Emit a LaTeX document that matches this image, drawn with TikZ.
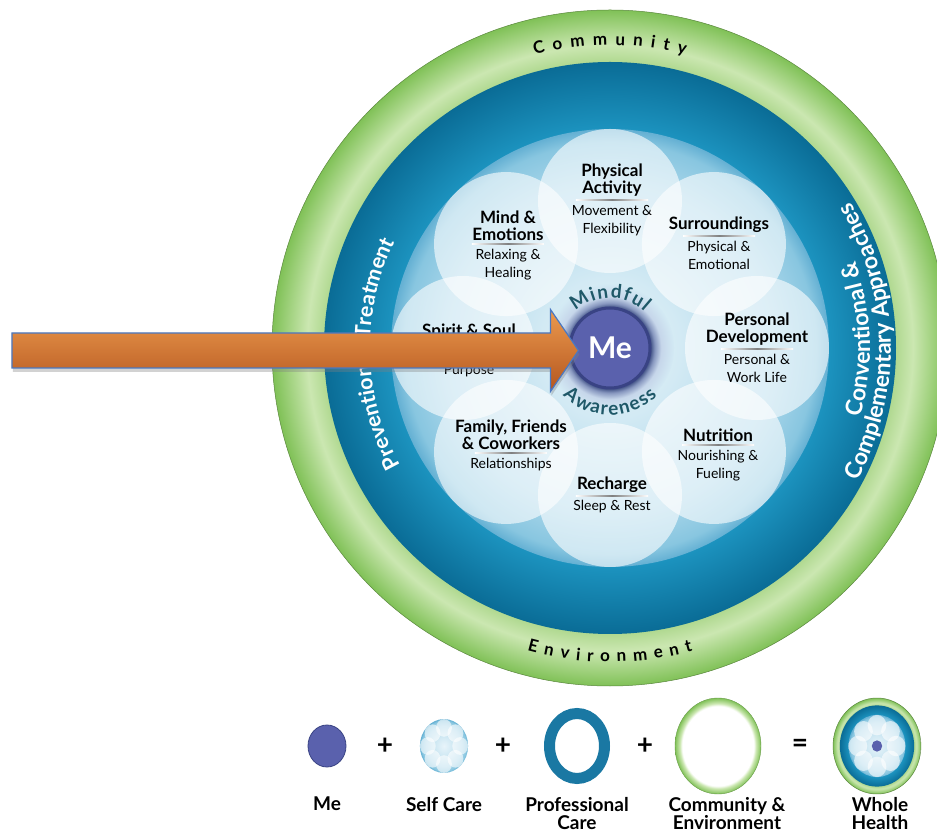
\documentclass[tikz,border=0pt]{standalone}
\usepackage{fontspec}
\setmainfont{Lato}
\usetikzlibrary{calc,positioning,shadows,shapes.geometric}

\definecolor{grA}{HTML}{AFD88F}
\definecolor{grB}{HTML}{CBE7B1}
\definecolor{grC}{HTML}{80C157}
\definecolor{blA}{HTML}{1C93BF}
\definecolor{blB}{HTML}{0A6C96}
\definecolor{lbA}{HTML}{E8F4FA}
\definecolor{lbB}{HTML}{D3EAF4}
\definecolor{lbC}{HTML}{A9D6EA}
\definecolor{lbD}{HTML}{88C6E0}
\definecolor{lbE}{HTML}{64B0D3}
\definecolor{haloA}{HTML}{46578A}
\definecolor{haloB}{HTML}{8797BF}
\definecolor{haloC}{HTML}{C6D6EA}
\definecolor{mefill}{HTML}{5A61AD}
\definecolor{meline}{HTML}{394384}
\definecolor{mindteal}{HTML}{1F5868}
\definecolor{arrowA}{HTML}{EC9A4E}
\definecolor{arrowB}{HTML}{B4561F}
\definecolor{arrowline}{HTML}{4A78C2}
\definecolor{profblue}{HTML}{1A78A3}

% ring gradients (25bp = outer edge of the filled circle)
\pgfdeclareradialshading{greenring}{\pgfpoint{0bp}{0bp}}{color(0bp)=(grA); color(21.1bp)=(grA); color(22.4bp)=(grB); color(25bp)=(grC); color(50bp)=(grC)}
\pgfdeclareradialshading{bluering}{\pgfpoint{0bp}{0bp}}{color(0bp)=(blA); color(19.1bp)=(blA); color(25bp)=(blB); color(50bp)=(blB)}
\pgfdeclareradialshading{wheelbg}{\pgfpoint{0bp}{0bp}}{color(0bp)=(lbA); color(8bp)=(lbB); color(19bp)=(lbC); color(23.5bp)=(lbD); color(25bp)=(lbE); color(50bp)=(lbE)}
\pgfdeclareradialshading{mehalo}{\pgfpoint{0bp}{0bp}}{color(0bp)=(haloA); color(16bp)=(haloA); color(17.5bp)=(haloB); color(20bp)=(haloC); color(25bp)=(lbB); color(50bp)=(lbB)}
\pgfdeclareradialshading{commring}{\pgfpoint{0bp}{0bp}}{color(0bp)=(white); color(20.8bp)=(white); color(22.2bp)=(grB); color(25bp)=(grC); color(50bp)=(grC)}

\newcommand\mindfont{\bfseries\fontsize{19}{19}\selectfont}
\newcommand\ringfont{\bfseries\fontsize{17}{17}\selectfont}
\newcommand\leftfont{\bfseries\fontsize{21.5}{21.5}\selectfont}
\newcommand\rightfont{\bfseries\fontsize{23}{23}\selectfont}

% outer rings of the wheel
\newcommand\wheelrings{%
  \shade[shading=greenring, draw=grC!70!black, line width=0.5pt] (0,0) circle (338);
  \shade[shading=bluering] (0,0) circle (286);}
% light blue disc with the eight petals
\newcommand\careflower{%
  \shade[shading=wheelbg] (0,0) circle (219);
  \foreach \a in {0,45,...,315}
    \fill[petal] (\a:147) circle (72);}
% letters set on a circle round the origin
% #1 radius of the baseline, #2 centre angle, #3 1 = clockwise / -1 = counterclockwise,
% #4 font, #5 colour, #6 extra letter spacing, #7 the letters
\newcommand\arcletters[7]{%
  \gdef\arcsum{0}%
  \foreach \ch in {#7}{%
    \setbox0\hbox{\pgfinterruptpicture#4\ch\endpgfinterruptpicture}%
    \pgfmathsetmacro\arcnew{\arcsum+\the\wd0+#6}\global\let\arcsum\arcnew}%
  \pgfmathsetmacro\arctotal{\arcsum-#6}%
  \global\let\arctot\arctotal
  \gdef\arcsum{0}%
  \foreach \ch in {#7}{%
    \setbox0\hbox{\pgfinterruptpicture#4\ch\endpgfinterruptpicture}%
    \pgfmathsetmacro\arcmid{\arcsum+0.5*\the\wd0}%
    \pgfmathsetmacro\arcnew{\arcsum+\the\wd0+#6}\global\let\arcsum\arcnew
    \pgfmathsetmacro\arcang{#2+(#3)*(0.5*\arctot-\arcmid)/(#1)*57.29578}%
    \node[inner sep=0pt, anchor=base, font=#4, text=#5, rotate=\arcang-90*(#3)] at (\arcang:#1) {\ch};}}

\begin{document}
\begin{tikzpicture}[x=1pt,y=1pt,
    petal/.style={fill=white, fill opacity=0.6},
    ptitle/.style={font=\bfseries\fontsize{17}{17}\selectfont, align=center, inner sep=0pt},
    psub/.style={font=\fontsize{14}{18}\selectfont, align=center, inner sep=0pt},
    sepline/.style={left color=white, right color=white, middle color=black!50},
    legend/.style={font=\bfseries\fontsize{19}{18}\selectfont, align=center, inner sep=0pt, anchor=north},
    plus/.style={font=\bfseries\fontsize{28}{28}\selectfont, inner sep=0pt},
    bigarrow/.style={draw=arrowline, line width=1.2pt, top color=arrowA, bottom color=arrowB,
      drop shadow={opacity=0.35, shadow xshift=1pt, shadow yshift=-4pt}}]
  \useasboundingbox (-610,-486) rectangle (327,348);
  \fill[white] (-610,-486) rectangle (327,348);
  \clip (-610,-486) rectangle (327,348);

  % wheel
  \wheelrings
  \careflower
  \shade[shading=mehalo] (0,0) circle (64);
  \node[circle, fill=mefill, draw=meline, line width=3pt, minimum size=80pt, inner sep=0pt,
    text=white, font=\bfseries\fontsize{30}{30}\selectfont] (me) at (0,0) {Me};

  % text round Me
  \arcletters{50}{90}{1}{\mindfont}{mindteal}{1.5}{M,i,n,d,f,u,l}
  \arcletters{67}{270}{-1}{\mindfont}{mindteal}{1.5}{A,w,a,r,e,n,e,s,s}

  % text in the rings
  \arcletters{303}{90}{1}{\ringfont}{black}{8}{C,o,m,m,u,n,i,t,y}
  \arcletters{314}{270}{-1}{\ringfont}{black}{7}{E,n,v,i,r,o,n,m,e,n,t}
  \arcletters{240}{181.5}{1}{\leftfont}{white}{0}{P,r,e,v,e,n,t,i,o,n,~,\&,~,T,r,e,a,t,m,e,n,t}
  \arcletters{260}{2}{-1}{\rightfont}{white}{0}{C,o,n,v,e,n,t,i,o,n,a,l,~,\&}
  \arcletters{281}{1.5}{-1}{\rightfont}{white}{0}{C,o,m,p,l,e,m,e,n,t,a,r,y,~,A,p,p,r,o,a,c,h,e,s}

  % petal labels
  \coordinate (pa) at (2,148);
  \node[ptitle, above=3pt of pa] (pat) {Physical\\Activity};
  \shade[sepline] ($(pa)+(-36,-0.5)$) rectangle ($(pa)+(36,0.5)$);
  \node[psub, below=5pt of pa] (pas) {Movement \&\\Flexibility};

  \coordinate (mi) at (-102,104);
  \node[ptitle, above=3pt of mi] (mit) {Mind \&\\Emotions};
  \shade[sepline] ($(mi)+(-36,-0.5)$) rectangle ($(mi)+(36,0.5)$);
  \node[psub, below=5pt of mi] (mis) {Relaxing \&\\Healing};

  \coordinate (su) at (109,112);
  \node[ptitle, above=3pt of su] (sut) {Surroundings};
  \shade[sepline] ($(su)+(-36,-0.5)$) rectangle ($(su)+(36,0.5)$);
  \node[psub, below=5pt of su] (sus) {Physical \&\\Emotional};

  \coordinate (pd) at (147,-1);
  \node[ptitle, above=3pt of pd] (pdt) {Personal\\Development};
  \shade[sepline] ($(pd)+(-36,-0.5)$) rectangle ($(pd)+(36,0.5)$);
  \node[psub, below=5pt of pd] (pds) {Personal \&\\Work Life};

  \coordinate (nu) at (108,-97);
  \node[ptitle, above=3pt of nu] (nut) {Nutrition};
  \shade[sepline] ($(nu)+(-36,-0.5)$) rectangle ($(nu)+(36,0.5)$);
  \node[psub, below=5pt of nu] (nus) {Nourishing \&\\Fueling};

  \coordinate (re) at (2,-148);
  \node[ptitle, above=3pt of re] (ret) {Recharge};
  \shade[sepline] ($(re)+(-36,-0.5)$) rectangle ($(re)+(36,0.5)$);
  \node[psub, below=4pt of re] (res) {Sleep \& Rest};

  \coordinate (fa) at (-99,-105);
  \node[ptitle, above=3pt of fa] (fat) {Family, Friends\\\& Coworkers};
  \shade[sepline] ($(fa)+(-36,-0.5)$) rectangle ($(fa)+(36,0.5)$);
  \node[psub, below=5pt of fa] (fas) {Relationships};

  \coordinate (ss) at (-141,5);
  \node[ptitle, above=3pt of ss] (sst) {Spirit \& Soul};
  \node[psub, below=21pt of ss] (sss) {Purpose};

  % legend
  \node[ellipse, fill=mefill, draw=meline, line width=0.8pt, minimum width=38pt, minimum height=42pt, inner sep=0pt] (iconme) at (-283,-398) {};
  \node[plus] (plus1) at (-225,-398) {+};
  \coordinate (iconself) at (-166,-398);
  \begin{scope}[shift={(iconself)}, xscale=0.11, yscale=0.123]
    \careflower
  \end{scope}
  \node[plus] (plus2) at (-107,-398) {+};
  \node[ellipse, draw=profblue, line width=11pt, minimum width=55pt, minimum height=65pt, inner sep=0pt] (iconprof) at (-33,-398) {};
  \node[plus] (plus3) at (35,-398) {+};
  \node[ellipse, shade, shading=commring, draw=grC!80!black, line width=0.4pt, minimum width=86pt, minimum height=96pt, inner sep=0pt] (iconcomm) at (108,-398) {};
  \node[plus] (equals) at (190,-398) {=};
  \coordinate (iconwhole) at (267,-398);
  \begin{scope}[shift={(iconwhole)}, xscale=0.13, yscale=0.142]
    \wheelrings
    \careflower
    \fill[mefill] (0,0) circle (40);
  \end{scope}

  \node[legend] (lme) at (-283,-449) {Me};
  \node[legend] (lself) at (-166,-449) {Self Care};
  \node[legend] (lprof) at (-33,-449) {Professional\\Care};
  \node[legend] (lcomm) at (117,-449) {Community \&\\Environment};
  \node[legend] (lwhole) at (270,-449) {Whole\\Health};

  % arrow pointing at Me
  \coordinate (tail) at (-598,-2.5);
  \coordinate (tip) at ($(me.west)+(10,-2.5)$);
  \draw[bigarrow] ($(tail)+(0,17.5)$) -- ($(tip)+(-28,17.5)$) -- ($(tip)+(-28,41)$) -- (tip)
    -- ($(tip)+(-28,-41)$) -- ($(tip)+(-28,-17.5)$) -- ($(tail)+(0,-17.5)$) -- cycle;
\end{tikzpicture}
\end{document}
